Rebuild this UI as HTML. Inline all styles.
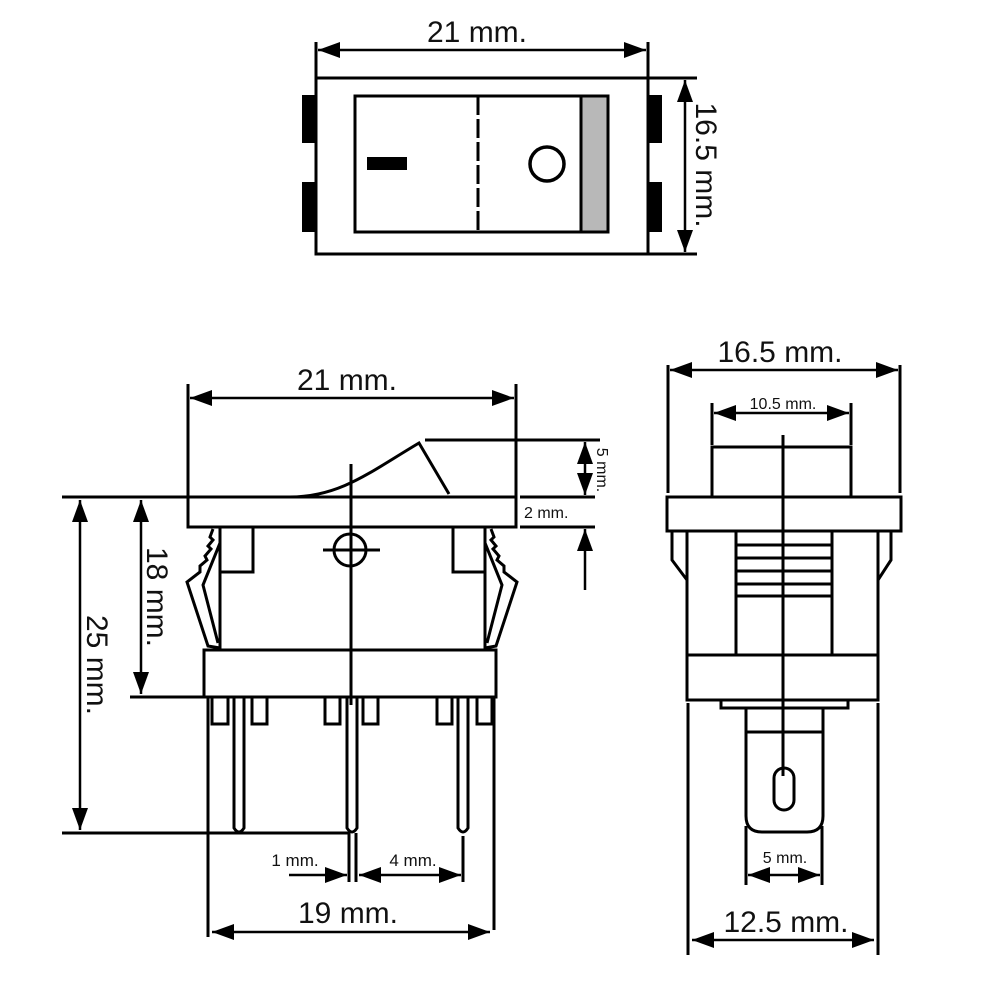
<!DOCTYPE html>
<html><head><meta charset="utf-8"><style>html,body{margin:0;padding:0;background:#fff}svg{display:block}text{font-family:"Liberation Sans",sans-serif;fill:#111}</style></head>
<body>
<svg width="1000" height="1000" viewBox="0 0 1000 1000" xmlns="http://www.w3.org/2000/svg">
<defs>
<marker id="b" viewBox="0 0 10 10" refX="10" refY="5" markerWidth="22" markerHeight="16" markerUnits="userSpaceOnUse" orient="auto-start-reverse" preserveAspectRatio="none"><path d="M0,0L10,5L0,10z" fill="#000"/></marker>
</defs>
<g stroke="#000" stroke-width="3" fill="none">
<line x1="316" y1="42" x2="316" y2="78"/><line x1="648" y1="42" x2="648" y2="78"/>
<line x1="318" y1="50" x2="646" y2="50" marker-start="url(#b)" marker-end="url(#b)" stroke-width="2.5"/>
<rect x="316" y="78" width="332" height="176"/>
<line x1="648" y1="78" x2="697" y2="78"/><line x1="648" y1="254" x2="697" y2="254"/>
<line x1="685" y1="80" x2="685" y2="252" marker-start="url(#b)" marker-end="url(#b)" stroke-width="2.5"/>
<rect x="302" y="95" width="14" height="48" fill="#000" stroke="none"/>
<rect x="302" y="182" width="14" height="50" fill="#000" stroke="none"/>
<rect x="648" y="95" width="14" height="48" fill="#000" stroke="none"/>
<rect x="648" y="182" width="14" height="50" fill="#000" stroke="none"/>
<rect x="581" y="96" width="27" height="136" fill="#b8b8b8" stroke="none"/>
<rect x="355" y="96" width="253" height="136"/>
<line x1="581" y1="96" x2="581" y2="232"/>
<line x1="478" y1="96" x2="478" y2="232" stroke-dasharray="19 4"/>
<rect x="367" y="157" width="40" height="13" fill="#000" stroke="none"/>
<circle cx="547" cy="164" r="17" stroke-width="3.5"/>

<line x1="188" y1="384" x2="188" y2="497"/><line x1="516" y1="384" x2="516" y2="520"/>
<line x1="190" y1="398" x2="514" y2="398" marker-start="url(#b)" marker-end="url(#b)" stroke-width="2.5"/>
<rect x="188" y="497" width="328" height="30"/>
<path d="M290,497 C340,497 370,472 419,443 L449,494"/>
<line x1="425" y1="440" x2="600" y2="440"/>
<line x1="520" y1="497" x2="595" y2="497"/><line x1="520" y1="527" x2="595" y2="527"/>
<line x1="585" y1="442" x2="585" y2="495" marker-start="url(#b)" marker-end="url(#b)" stroke-width="2.5"/>
<line x1="585" y1="590" x2="585" y2="529" marker-end="url(#b)" stroke-width="2.5"/>
<rect x="220" y="527" width="265" height="123"/>
<rect x="204" y="650" width="292" height="47"/>
<rect x="220" y="527" width="33" height="45"/>
<rect x="453" y="527" width="32" height="45"/>
<line x1="351" y1="464" x2="351" y2="705"/>
<circle cx="350" cy="550" r="16"/>
<line x1="323" y1="550" x2="380" y2="550"/>
<path d="M213,529 L210,537 L213,540 L208,546 L211,549 L205,556 L207,560 L200,566 L200,572 L187,582 L208,646 L220,648"/>
<path d="M220,543 L203,585 L218,643"/>
<path d="M491,529 L494,537 L491,540 L496,546 L493,549 L499,556 L497,560 L504,566 L504,572 L517,582 L496,646 L485,648"/>
<path d="M485,543 L502,585 L487,643"/>
<rect x="212" y="697" width="16" height="27"/><rect x="252" y="697" width="15" height="27"/>
<rect x="325" y="697" width="15" height="27"/><rect x="363" y="697" width="15" height="27"/>
<rect x="437" y="697" width="15" height="27"/><rect x="477" y="697" width="15" height="27"/>
<path d="M234,697 L234,828 Q239,836 244,828 L244,697"/>
<path d="M347,697 L347,828 Q352,836 357,828 L357,697"/>
<path d="M458,697 L458,828 Q463,836 468,828 L468,697"/>
<line x1="62" y1="833" x2="350" y2="833"/>
<line x1="62" y1="497" x2="188" y2="497"/>
<line x1="130" y1="697" x2="204" y2="697"/>
<line x1="80" y1="500" x2="80" y2="830" marker-start="url(#b)" marker-end="url(#b)" stroke-width="2.5"/>
<line x1="141" y1="500" x2="141" y2="694" marker-start="url(#b)" marker-end="url(#b)" stroke-width="2.5"/>
<line x1="349" y1="833" x2="349" y2="882"/><line x1="356" y1="833" x2="356" y2="882"/>
<line x1="463" y1="836" x2="463" y2="882"/>
<line x1="289" y1="875" x2="347" y2="875" marker-end="url(#b)" stroke-width="2.5"/>
<line x1="359" y1="875" x2="461" y2="875" marker-start="url(#b)" marker-end="url(#b)" stroke-width="2.5"/>
<line x1="208" y1="697" x2="208" y2="937"/><line x1="494" y1="697" x2="494" y2="930"/>
<line x1="212" y1="932" x2="490" y2="932" marker-start="url(#b)" marker-end="url(#b)" stroke-width="2.5"/>

<line x1="668" y1="365" x2="668" y2="493"/><line x1="900" y1="365" x2="900" y2="493"/>
<line x1="670" y1="370" x2="898" y2="370" marker-start="url(#b)" marker-end="url(#b)" stroke-width="2.5"/>
<line x1="712" y1="403" x2="712" y2="445"/><line x1="851" y1="403" x2="851" y2="445"/>
<line x1="714" y1="413" x2="849" y2="413" marker-start="url(#b)" marker-end="url(#b)" stroke-width="2.5"/>
<rect x="712" y="447" width="139" height="50"/>
<rect x="667" y="497" width="234" height="34"/>
<rect x="687" y="531" width="191" height="124"/>
<path d="M672,531 L672,560 L687,580"/>
<path d="M891,531 L891,560 L878,580"/>
<line x1="736" y1="531" x2="736" y2="655"/><line x1="832" y1="531" x2="832" y2="655"/>
<line x1="736" y1="545" x2="832" y2="545"/><line x1="736" y1="558" x2="832" y2="558"/>
<line x1="736" y1="571" x2="832" y2="571"/><line x1="736" y1="584" x2="832" y2="584"/>
<line x1="736" y1="596" x2="832" y2="596"/>
<rect x="687" y="655" width="191" height="45"/>
<rect x="721" y="700" width="127" height="8"/>
<rect x="746" y="708" width="77" height="24"/>
<path d="M746,732 L746,816 Q746,832 762,832 L807,832 Q823,832 823,816 L823,732"/>
<rect x="774" y="768" width="20" height="42" rx="10"/>
<line x1="783" y1="435" x2="783" y2="776"/>
<line x1="688" y1="703" x2="688" y2="955"/><line x1="878" y1="703" x2="878" y2="955"/>
<line x1="692" y1="940" x2="874" y2="940" marker-start="url(#b)" marker-end="url(#b)" stroke-width="2.5"/>
<line x1="746" y1="826" x2="746" y2="885"/><line x1="822" y1="826" x2="822" y2="885"/>
<line x1="748" y1="875" x2="820" y2="875" marker-start="url(#b)" marker-end="url(#b)" stroke-width="2.5"/>
</g>
<g>
<text x="477" y="42" font-size="30" text-anchor="middle">21 mm.</text>
<text transform="translate(696,165) rotate(90)" font-size="30" text-anchor="middle">16.5 mm.</text>
<text x="347" y="390" font-size="30" text-anchor="middle">21 mm.</text>
<text transform="translate(597,470) rotate(90)" font-size="16" text-anchor="middle">5 mm.</text>
<text x="524" y="518" font-size="16">2 mm.</text>
<text transform="translate(87,665) rotate(90)" font-size="30" text-anchor="middle">25 mm.</text>
<text transform="translate(147,597) rotate(90)" font-size="30" text-anchor="middle">18 mm.</text>
<text x="295" y="866" font-size="17" text-anchor="middle">1 mm.</text>
<text x="413" y="866" font-size="17" text-anchor="middle">4 mm.</text>
<text x="348" y="923" font-size="30" text-anchor="middle">19 mm.</text>
<text x="780" y="362" font-size="30" text-anchor="middle">16.5 mm.</text>
<text x="783" y="409" font-size="16" text-anchor="middle">10.5 mm.</text>
<text x="785" y="863" font-size="16" text-anchor="middle">5 mm.</text>
<text x="786" y="932" font-size="30" text-anchor="middle">12.5 mm.</text>
</g>
</svg>
</body></html>
